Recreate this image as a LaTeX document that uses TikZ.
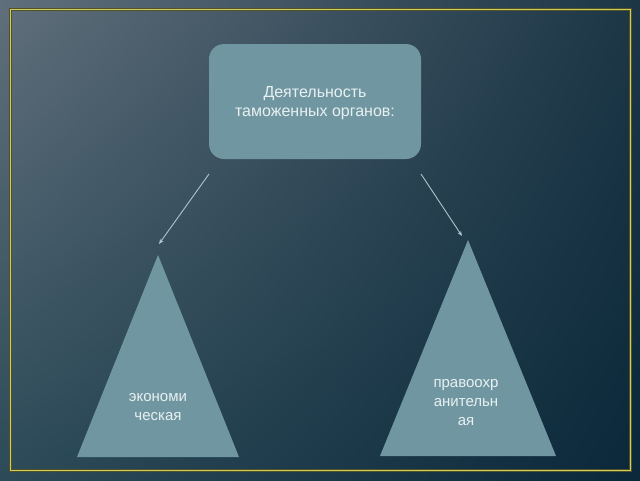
\documentclass[tikz,border=0pt]{standalone}
\usepackage{fontspec}
\setmainfont{Liberation Sans}
\usetikzlibrary{arrows.meta,shadings}
\definecolor{bgUL}{RGB}{96,111,123}
\definecolor{bgUR}{RGB}{28,54,70}
\definecolor{bgLL}{RGB}{44,74,88}
\definecolor{bgLR}{RGB}{10,40,58}
\definecolor{shapefill}{RGB}{112,151,161}
\definecolor{txt}{RGB}{232,240,242}
\definecolor{framecol}{RGB}{206,206,96}
\definecolor{arrowcol}{RGB}{170,198,204}
\tikzset{
  label text/.style={text=txt, font=\fontsize{15}{19}\selectfont, align=center, inner sep=0pt},
  conn/.style={draw=arrowcol, line width=0.9pt, -{Stealth[length=5pt,width=4pt]}},
}
\begin{document}
\begin{tikzpicture}[x=1pt,y=-1pt]
\useasboundingbox (0,0) rectangle (640,480);
\shade[upper left=bgUL, upper right=bgUR, lower left=bgLL, lower right=bgLR] (0,0) rectangle (640,480);
\draw[draw=black!60!framecol, line width=2.6pt] (10.5,9.5) rectangle (630.5,470.5);
\draw[draw=framecol, line width=1.6pt] (10.5,9.5) rectangle (630.5,470.5);
% top box
\node[fill=shapefill, rounded corners=15pt, minimum width=212pt, minimum height=115pt, inner sep=0pt] (box) at (315,101.5) {};
\node[label text, font=\fontsize{16}{19}\selectfont] (boxtext) at (315,103) {Деятельность\\таможенных органов:};
% triangles
\fill[shapefill] (158,255) -- (239,457) -- (77,457) -- cycle;
\fill[shapefill] (468,240) -- (556,456) -- (380,456) -- cycle;
\node[label text] (econ) at (158,407) {экономи\\ческая};
\node[label text] (law) at (466,403) {правоохр\\анительн\\ая};
% connectors
\coordinate (ls) at (209,174);
\coordinate (le) at (159,244);
\coordinate (rs) at (421,174);
\coordinate (re) at (462,236);
\draw[conn] (ls) -- (le);
\draw[conn] (rs) -- (re);
\end{tikzpicture}
\end{document}
